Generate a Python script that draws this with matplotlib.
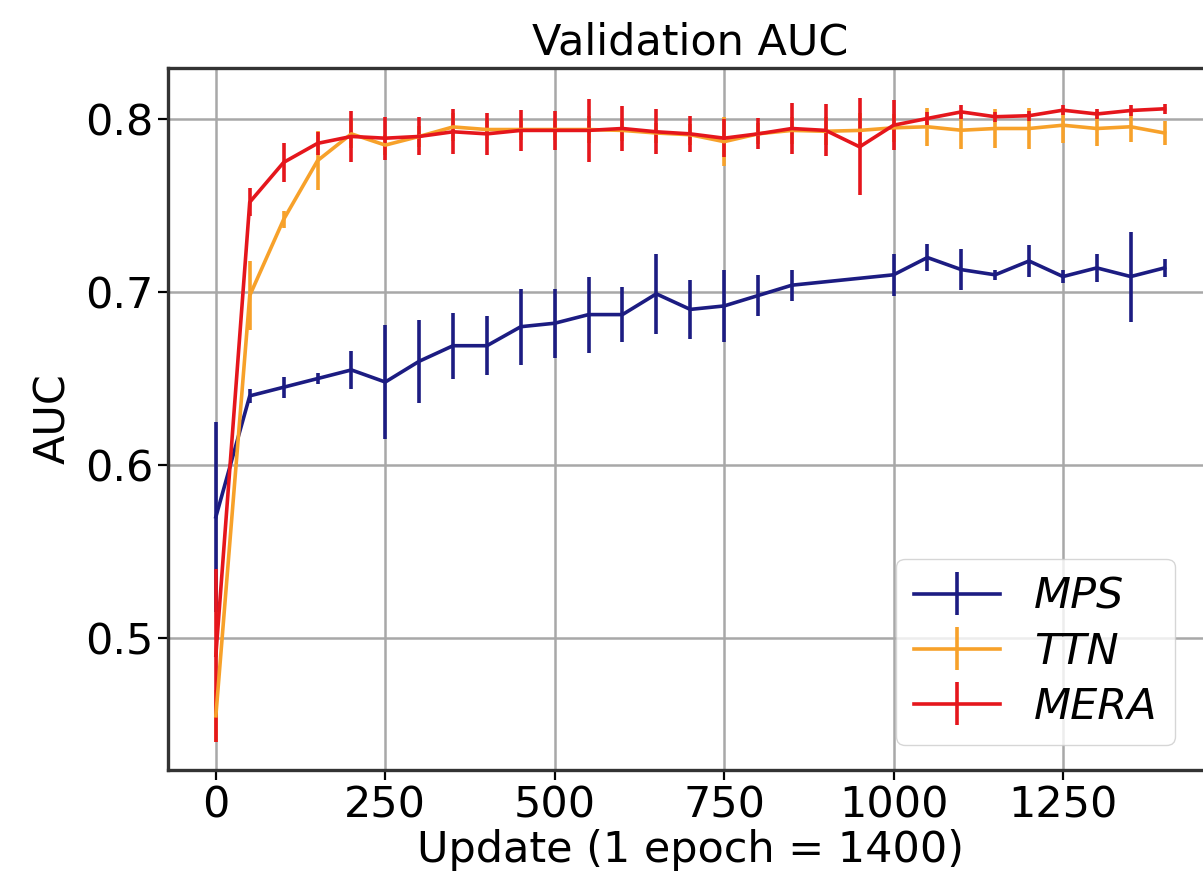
import numpy as np
import matplotlib
matplotlib.use('Agg')
import matplotlib.pyplot as plt

# update steps
x_all = list(range(0, 1401, 50))
x_mps = [u for u in x_all if u not in (900, 950)]

mps = [0.570, 0.640, 0.645, 0.650, 0.655, 0.648, 0.660, 0.669, 0.669, 0.680,
       0.682, 0.687, 0.687, 0.699, 0.690, 0.692, 0.698, 0.704, 0.710, 0.720,
       0.713, 0.710, 0.718, 0.709, 0.714, 0.709, 0.714]
mps_err = [0.055, 0.004, 0.006, 0.003, 0.011, 0.033, 0.024, 0.019, 0.017, 0.022,
           0.020, 0.022, 0.016, 0.023, 0.017, 0.021, 0.012, 0.009, 0.012, 0.008,
           0.012, 0.003, 0.009, 0.004, 0.008, 0.026, 0.005]

ttn = [0.455, 0.698, 0.742, 0.776, 0.7915, 0.785, 0.790, 0.7955, 0.794, 0.794,
       0.794, 0.794, 0.7935, 0.792, 0.791, 0.787, 0.7915, 0.7935, 0.793, 0.7935,
       0.795, 0.7956, 0.7936, 0.7946, 0.7946, 0.7965, 0.7946, 0.7956, 0.792]
ttn_err = [0.015, 0.020, 0.005, 0.017, 0.008, 0.006, 0.006, 0.008, 0.006, 0.006,
           0.006, 0.008, 0.006, 0.006, 0.006, 0.014, 0.006, 0.008, 0.008, 0.010,
           0.008, 0.011, 0.011, 0.011, 0.012, 0.010, 0.010, 0.009, 0.007]

mera = [0.490, 0.752, 0.775, 0.786, 0.790, 0.789, 0.790, 0.7927, 0.7915, 0.7935,
        0.7935, 0.7935, 0.7946, 0.7927, 0.7915, 0.789, 0.7915, 0.7946, 0.7935, 0.784,
        0.7965, 0.8004, 0.8042, 0.8014, 0.802, 0.8052, 0.803, 0.805, 0.806]
mera_err = [0.050, 0.008, 0.0115, 0.0065, 0.015, 0.0125, 0.011, 0.013, 0.012, 0.012,
            0.0115, 0.018, 0.013, 0.013, 0.0105, 0.011, 0.009, 0.015, 0.015, 0.028,
            0.0145, 0.004, 0.004, 0.003, 0.003, 0.003, 0.003, 0.003, 0.003]

fs = 31

fig = plt.figure(figsize=(12.03, 8.85), dpi=100)
ax = fig.add_axes([0.140, 0.130, 0.8675, 0.793])

ax.errorbar(x_mps, mps, yerr=mps_err, color='#1c1c82', lw=2.6, elinewidth=2.6, label='MPS')
ax.errorbar(x_all, ttn, yerr=ttn_err, color='#f7a12a', lw=2.6, elinewidth=2.6, label='TTN')
ax.errorbar(x_all, mera, yerr=mera_err, color='#e5161c', lw=2.6, elinewidth=2.6, label='MERA')

ax.set_xlim(-70, 1470)
ax.set_ylim(0.4237, 0.8295)
ax.set_xticks([0, 250, 500, 750, 1000, 1250])
ax.set_yticks([0.5, 0.6, 0.7, 0.8])
ax.grid(True, color='#a8a8a8', lw=1.8)
ax.tick_params(labelsize=fs, length=7, width=1.6)
for s in ax.spines.values():
    s.set_linewidth(2.4)
    s.set_color('#333333')

ax.set_title('Validation AUC', fontsize=fs, pad=10)
ax.set_xlabel('Update (1 epoch = 1400)', fontsize=fs, labelpad=2)
ax.set_ylabel('AUC', fontsize=fs, labelpad=8)

leg = ax.legend(loc='lower right', prop={'style': 'italic', 'size': fs},
                bbox_to_anchor=(0.985, 0.005), handlelength=2.0, labelspacing=0.3)

fig.savefig('out.png', dpi=100)
